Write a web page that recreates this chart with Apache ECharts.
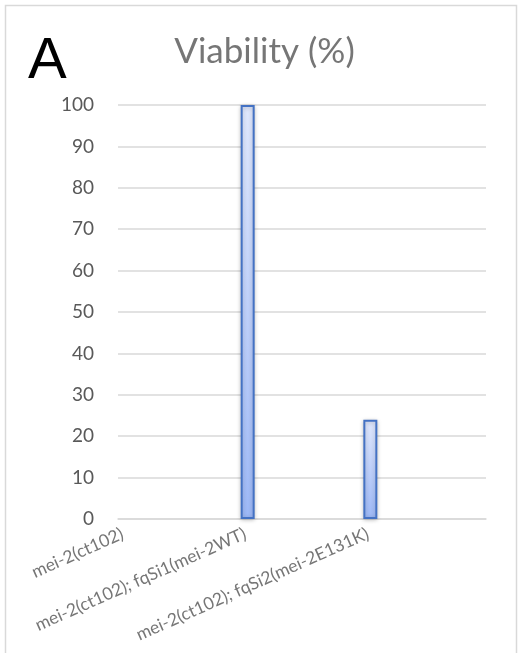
<!DOCTYPE html>
<html>
<head>
<meta charset="utf-8">
<script src="https://cdn.jsdelivr.net/npm/echarts@6/dist/echarts.min.js"></script>
<style>
  html, body { margin: 0; padding: 0; background: #fff; }
  #chart { width: 529px; height: 653px; }
</style>
</head>
<body>
<div id="chart"></div>
<script>
// Strain genotypes along the x axis
const categories = [
  'mei-2(ct102)',
  'mei-2(ct102); fqSi1(mei-2WT)',
  'mei-2(ct102); fqSi2(mei-2E131K)'
];
// Viability in percent for each genotype
const viability = [0, 100, 24];
// Y axis range and step
const yMin = 0;
const yMax = 100;
const yStep = 10;

const chart = echarts.init(document.getElementById('chart'), null, { renderer: 'canvas' });

const barFill = new echarts.graphic.LinearGradient(0, 0, 0, 1, [
  { offset: 0, color: '#dfe7fc' },
  { offset: 1, color: '#9db8f6' }
]);

// The categories sit on tick positions; a trailing blank slot closes the axis
const axisCategories = categories.concat(['']);

chart.setOption({
  animation: false,
  title: {
    text: 'Viability (%)',
    left: 'center',
    top: 29,
    textStyle: { fontFamily: 'Lato', fontSize: 35, fontWeight: 'normal', color: '#767676' }
  },
  graphic: [
    {
      type: 'rect',
      shape: { x: 5.5, y: 5.5, width: 511, height: 700 },
      style: { fill: 'none', stroke: '#d9d9d9', lineWidth: 1.5 },
      silent: true
    },
    {
      type: 'text',
      left: 28,
      top: 33,
      style: { text: 'A', font: '58px "Liberation Sans"', fill: '#000' }
    }
  ],
  grid: { left: 118, right: 43, top: 105, bottom: 134 },
  xAxis: {
    type: 'category',
    data: axisCategories,
    boundaryGap: false,
    axisLine: { show: true, lineStyle: { color: '#d9d9d9', width: 1.5 } },
    axisTick: { show: false },
    axisLabel: {
      rotate: 24,
      margin: 16,
      padding: [0, -5, 0, 0],
      interval: 0,
      fontFamily: 'Lato',
      fontSize: 17.5,
      color: '#767676'
    }
  },
  yAxis: {
    type: 'value',
    min: yMin,
    max: yMax,
    interval: yStep,
    axisLine: { show: false },
    axisTick: { show: false },
    splitLine: { lineStyle: { color: '#d9d9d9', width: 1.5 } },
    axisLabel: { margin: 24, fontFamily: 'Lato', fontSize: 19, color: '#595959' }
  },
  series: [
    {
      // empty slot that pushes the visible bar to the right of each tick
      type: 'bar',
      barWidth: 14,
      barGap: '0%',
      data: viability.map(() => 0),
      itemStyle: { color: 'transparent' },
      silent: true
    },
    {
      type: 'bar',
      barWidth: 14,
      barGap: '0%',
      data: viability.map(v => v === 0
        ? { value: v, itemStyle: { borderWidth: 0, shadowBlur: 0, color: 'transparent' } }
        : v),
      itemStyle: {
        color: barFill,
        borderColor: '#4472c4',
        borderWidth: 2,
        shadowBlur: 4,
        shadowColor: 'rgba(0,0,0,0.22)',
        shadowOffsetY: 1
      }
    }
  ]
});
</script>
</body>
</html>
